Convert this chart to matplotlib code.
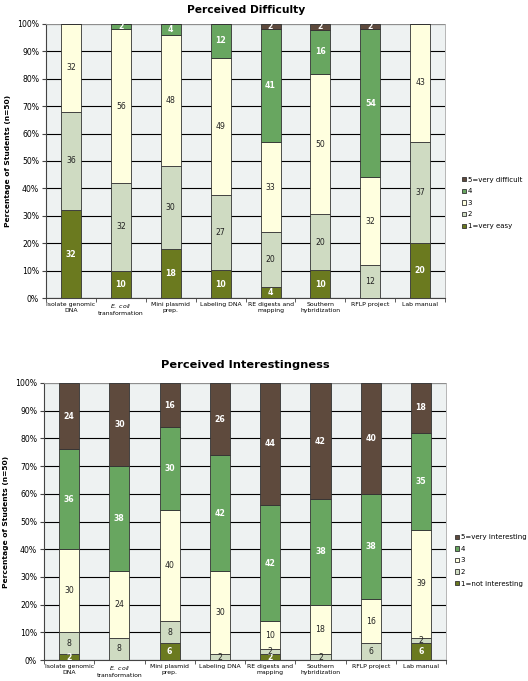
import matplotlib
matplotlib.use("Agg")
import matplotlib.pyplot as plt
import numpy as np

categories = ["Isolate genomic\nDNA", r"$\it{E.\ coli}$" + "\ntransformation", "Mini plasmid\nprep.",
              "Labeling DNA", "RE digests and\nmapping", "Southern\nhybridization", "RFLP project", "Lab manual"]

# Perceived difficulty (levels 1..5)
diff_1 = [32, 10, 18, 10, 4, 10, 0, 20]
diff_2 = [36, 32, 30, 27, 20, 20, 12, 37]
diff_3 = [32, 56, 48, 49, 33, 50, 32, 43]
diff_4 = [0, 2, 4, 12, 41, 16, 54, 0]
diff_5 = [0, 0, 0, 0, 2, 2, 2, 0]
diff_labels = ["1=very easy", "2", "3", "4", "5=very difficult"]

# Perceived interestingness (levels 1..5)
int_1 = [2, 0, 6, 0, 2, 0, 0, 6]
int_2 = [8, 8, 8, 2, 2, 2, 6, 2]
int_3 = [30, 24, 40, 30, 10, 18, 16, 39]
int_4 = [36, 38, 30, 42, 42, 38, 38, 35]
int_5 = [24, 30, 16, 26, 44, 42, 40, 18]
int_labels = ["1=not interesting", "2", "3", "4", "5=very interesting"]

colors = ["#6b7a1f", "#cfdbc2", "#ffffdf", "#68a660", "#5e4a3d"]
text_colors = ["white", "#222222", "#222222", "white", "white"]
text_weights = ["bold", "normal", "normal", "bold", "bold"]

plt.rcParams['font.family'] = ['DejaVu Sans']
plt.rcParams['mathtext.fontset'] = 'dejavusans'

fig = plt.figure(figsize=(5.28, 6.81), dpi=100)


def draw(ax, series, labels, title, legend_pos, title_pad, title_size):
    data = np.array(series, dtype=float)
    totals = data.sum(axis=0)
    pct = data / totals * 100
    x = np.arange(len(categories))
    bottom = np.zeros(len(categories))
    handles = []
    for i in range(5):
        h = ax.bar(x, pct[i], bottom=bottom, width=0.4, color=colors[i],
                   edgecolor="#333333", linewidth=0.6, zorder=3, label=labels[i])
        handles.append(h)
        for j in range(len(categories)):
            if data[i, j] > 0:
                ax.text(x[j], bottom[j] + pct[i, j] / 2, f"{int(data[i, j])}",
                        ha="center", va="center", fontsize=5.6,
                        color=text_colors[i], fontweight=text_weights[i], zorder=4)
        bottom += pct[i]
    ax.set_xlim(-0.5, len(categories) - 0.5)
    ax.set_ylim(0, 100)
    ax.set_yticks(np.arange(0, 101, 10))
    ax.set_yticklabels([f"{v}%" for v in range(0, 101, 10)], fontsize=5.6)
    ax.set_xticks(x)
    ax.set_xticklabels(categories, fontsize=4.4, linespacing=1.1)
    ax.tick_params(axis="x", length=0, pad=3)
    ax.set_xticks(np.arange(-0.5, len(categories), 1), minor=True)
    ax.tick_params(axis="x", which="minor", length=3, color="#444444")
    ax.tick_params(axis="y", length=3, color="#444444", pad=2)
    ax.set_facecolor("#eef2f2")
    ax.yaxis.grid(True, color="black", linewidth=0.8, zorder=0)
    ax.set_axisbelow(True)
    for s in ["top", "right"]:
        ax.spines[s].set_color("#aaaaaa")
        ax.spines[s].set_linewidth(0.6)
    ax.spines["left"].set_color("#444444")
    ax.spines["bottom"].set_color("#444444")
    ax.set_ylabel("Percentage of Students (n=50)", fontsize=5.4, fontweight="bold", labelpad=4)
    ax.set_title(title, fontsize=title_size, fontweight="bold", pad=title_pad)
    fig.legend(handles[::-1], labels[::-1], loc="center left", bbox_to_anchor=legend_pos,
               frameon=False, fontsize=5.0, handlelength=0.55, handleheight=0.55,
               handletextpad=0.25, labelspacing=0.8, borderaxespad=0, borderpad=0)


ax1 = fig.add_axes([0.0871, 0.5624, 0.756, 0.4024])
draw(ax1, [diff_1, diff_2, diff_3, diff_4, diff_5], diff_labels, "Perceived Difficulty",
     (0.875, 0.702), 8, 7.7)

ax2 = fig.add_axes([0.0833, 0.0308, 0.7617, 0.4068])
draw(ax2, [int_1, int_2, int_3, int_4, int_5], int_labels, "Perceived Interestingness",
     (0.862, 0.177), 11, 8.2)

fig.savefig("out.png", dpi=100)
